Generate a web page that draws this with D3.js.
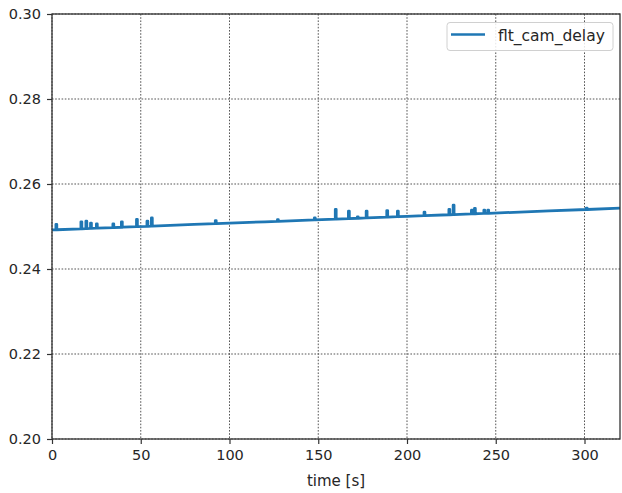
<!DOCTYPE html>
<html><head><meta charset="utf-8">
<script src="https://cdn.jsdelivr.net/npm/d3@7"></script>
<style>html,body{margin:0;padding:0;background:#fff;}svg{display:block;}</style>
</head><body>
<svg id="chart" width="622" height="493"></svg>
<script>
// ---- data ----
const seriesName = "flt_cam_delay";
const xLabel = "time [s]";
const xTicks = [0, 50, 100, 150, 200, 250, 300];
const yTicks = [0.20, 0.22, 0.24, 0.26, 0.28, 0.30];
// smooth trend samples (time [s], delay [s])
const baseTimes  = [0, 40, 80, 120, 160, 200, 240, 280, 320];
const baseValues = [0.2492, 0.24984, 0.25048, 0.25111, 0.25175, 0.25239, 0.25303, 0.25366, 0.2543];
// short spikes: time, delay just before spike, spike peak
const spikeTimes = [2.2, 16.3, 19.1, 21.7, 25.0, 34.3, 39.1, 47.6, 53.5, 56.0, 92.0, 127.0, 147.8, 159.6, 167.0, 172.0, 177.0, 188.6, 194.6, 209.6, 223.6, 226.0, 236.3, 238.0, 243.3, 245.5, 301.0];
const spikeBase  = [0.24924, 0.24946, 0.2495, 0.24955, 0.2496, 0.24975, 0.24982, 0.24996, 0.25005, 0.25009, 0.25067, 0.25122, 0.25156, 0.25174, 0.25186, 0.25194, 0.25202, 0.25221, 0.2523, 0.25254, 0.25276, 0.2528, 0.25297, 0.25299, 0.25308, 0.25311, 0.2540];
const spikePeak  = [0.2505, 0.2511, 0.25125, 0.2508, 0.2506, 0.2506, 0.2511, 0.25165, 0.25125, 0.252, 0.2514, 0.2516, 0.2520, 0.2540, 0.2536, 0.25225, 0.2536, 0.25375, 0.2536, 0.25335, 0.2540, 0.2550, 0.25385, 0.25425, 0.25385, 0.25385, 0.2543];
const spikeDur = 0.5;

// ---- build series ----
let pts = baseTimes.map((t, i) => ({t, v: baseValues[i], o: 0}));
spikeTimes.forEach((t, i) => {
  pts.push({t, v: spikeBase[i], o: 0});
  pts.push({t, v: spikePeak[i], o: 1});
  pts.push({t: t + spikeDur, v: spikePeak[i], o: 2});
  pts.push({t: t + spikeDur, v: spikeBase[i], o: 3});
});
pts.sort((a, b) => a.t - b.t || a.o - b.o);

// ---- layout ----
const svg = d3.select("#chart");
const L = 52, R = 620, T = 14, B = 439;
const x = d3.scaleLinear().domain([0, 320]).range([L, R]);
const y = d3.scaleLinear().domain([0.20, 0.30]).range([B, T]);
const font = "DejaVu Sans, sans-serif";
const txt = "#262626";

// grid
const g = svg.append("g");
g.selectAll("line.vx").data(xTicks).join("line")
  .attr("x1", d => x(d)).attr("x2", d => x(d)).attr("y1", T).attr("y2", B)
  .attr("stroke", "#555").attr("stroke-width", 1).attr("stroke-dasharray", "1.6,1.6");
g.selectAll("line.hy").data(yTicks).join("line")
  .attr("x1", L).attr("x2", R).attr("y1", d => y(d)).attr("y2", d => y(d))
  .attr("stroke", "#555").attr("stroke-width", 1).attr("stroke-dasharray", "1.6,1.6");

// line
const line = d3.line().x(d => x(d.t)).y(d => y(d.v));
svg.append("path").datum(pts).attr("d", line)
  .attr("fill", "none").attr("stroke", "#1f77b4").attr("stroke-width", 2.8)
  .attr("stroke-linejoin", "round");

// axes
const xAxis = d3.axisBottom(x).tickValues(xTicks).tickSize(5).tickPadding(6).tickFormat(d3.format("d"));
const yAxis = d3.axisLeft(y).tickValues(yTicks).tickSize(5).tickPadding(6).tickFormat(d3.format(".2f"));
const gx = svg.append("g").attr("transform", `translate(0,${B})`).call(xAxis);
const gy = svg.append("g").attr("transform", `translate(${L},0)`).call(yAxis);
[gx, gy].forEach(a => {
  a.select(".domain").remove();
  a.selectAll(".tick line").attr("stroke", "#333").attr("stroke-width", 1.2);
  a.selectAll(".tick text").attr("fill", txt).style("font-family", font).style("font-size", "14.5px");
});

// frame
svg.append("rect").attr("x", L).attr("y", T).attr("width", R - L).attr("height", B - T)
  .attr("fill", "none").attr("stroke", "#333").attr("stroke-width", 1.3);

// x label
svg.append("text").attr("x", (L + R) / 2).attr("y", 486).attr("text-anchor", "middle")
  .attr("fill", txt).style("font-family", font).style("font-size", "15px").text(xLabel);

// legend
const lg = svg.append("g");
lg.append("rect").attr("x", 447).attr("y", 22.5).attr("width", 166).attr("height", 28)
  .attr("rx", 3).attr("fill", "rgba(255,255,255,0.85)").attr("stroke", "#d0d0d0").attr("stroke-width", 1);
lg.append("line").attr("x1", 451).attr("x2", 485).attr("y1", 34.5).attr("y2", 34.5)
  .attr("stroke", "#1f77b4").attr("stroke-width", 2.5);
lg.append("text").attr("x", 498).attr("y", 41).attr("fill", txt)
  .style("font-family", font).style("font-size", "15.5px").text(seriesName);
</script>
</body></html>
